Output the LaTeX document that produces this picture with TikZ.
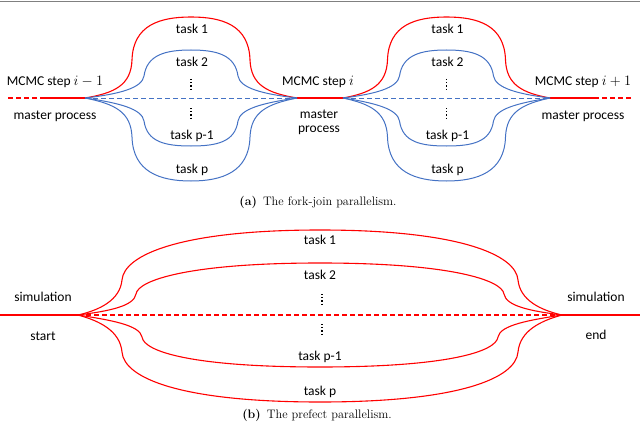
\documentclass[tikz,border=0pt]{standalone}
\usepackage{fontspec}
\setmainfont{Carlito}
\newfontfamily\capfont{Latin Modern Roman}
\begin{document}
\begin{tikzpicture}[x=1pt,y=-1pt,
  redl/.style={draw={rgb,255:red,255;green,0;blue,0},line width=1.1pt},
  bluel/.style={draw={rgb,255:red,68;green,114;blue,196},line width=1pt},
  dsh/.style={dash pattern=on 5pt off 3pt},
  lbl/.style={font=\fontsize{13.5}{15}\selectfont,inner sep=0pt,align=center},
  captxt/.style={font=\capfont\fontsize{12.3}{14}\selectfont,inner sep=0pt},
  vdots/.style={draw=black,line width=1.2pt,dash pattern=on 1.2pt off 2pt}]
\useasboundingbox (0,0) rectangle (640,428);
\draw[gray,line width=1pt] (0,1.5) -- (640,1.5);
% ---------- (a) ----------
\coordinate (a0) at (8,98);
\coordinate (a1) at (42,98);
\coordinate (f1) at (85,98);
\coordinate (j1) at (297,98);
\coordinate (f2) at (343,98);
\coordinate (j2) at (550,98);
\coordinate (a2) at (594,98);
\coordinate (a3) at (632,98);
\draw[redl,dsh] (a0) -- (a1);
\draw[redl] (a1) -- (f1);
\draw[redl] (j1) -- (f2);
\draw[redl] (j2) -- (a2);
\draw[redl,dsh] (a2) -- (a3);
\draw[bluel,dsh] (f1) -- (j1);
\draw[bluel,dsh] (f2) -- (j2);
\foreach \f/\j/\c in {f1/j1/191,f2/j2/446.5}{
  \begin{scope}[shift={(\c,0)}]
  \draw[redl] (\f) .. controls (-76,93) and (-60,85) .. (-59,60)
     .. controls (-58,25) and (-31,17) .. (0,17)
     .. controls (31,17) and (58,25) .. (59,60)
     .. controls (60,85) and (76,93) .. (\j);
  \draw[bluel] (\f) .. controls (-71,94) and (-49,88) .. (-47,76)
     .. controls (-44,55) and (-26,50) .. (0,50)
     .. controls (26,50) and (44,55) .. (47,76)
     .. controls (49,88) and (71,94) .. (\j);
  \draw[bluel] (\f) .. controls (-71,103) and (-49,109) .. (-47,121)
     .. controls (-44,142) and (-26,146) .. (0,146)
     .. controls (26,146) and (44,142) .. (47,121)
     .. controls (49,109) and (71,103) .. (\j);
  \draw[bluel] (\f) .. controls (-76,104) and (-60,112) .. (-59,137)
     .. controls (-58,172) and (-31,181) .. (0,181)
     .. controls (31,181) and (58,172) .. (59,137)
     .. controls (60,112) and (76,104) .. (\j);
  \end{scope}
}
\foreach \c/\n in {191/A,446.5/B}{
  \node[lbl] (t1\n) at (\c+1,29) {task 1};
  \node[lbl] (t2\n) at (\c+1,62) {task 2};
  \node[lbl] (tq\n) at (\c+1,136) {task p-1};
  \node[lbl] (tp\n) at (\c+1,170) {task p};
  \coordinate (d1\n) at (\c,79);
  \coordinate (d2\n) at (\c,91);
  \coordinate (d3\n) at (\c,108);
  \coordinate (d4\n) at (\c,120);
  \draw[vdots] (d1\n) -- (d2\n);
  \draw[vdots] (d3\n) -- (d4\n);
}
\node[lbl] (m1) at (55,82) {MCMC step $i-1$};
\node[lbl] (p1) at (55,116) {master process};
\node[lbl] (m2) at (318,82) {MCMC step $i$};
\node[lbl] (p2) at (319,122) {master\\[-1pt]process};
\node[lbl] (m3) at (583,82) {MCMC step $i+1$};
\node[lbl] (p3) at (583,116) {master process};
\node[captxt] (capa) at (318,202) {\textbf{(a)}\enspace The fork-join parallelism.};
% ---------- (b) ----------
\coordinate (b0) at (0,315);
\coordinate (fb) at (78,315);
\coordinate (jb) at (562,315);
\coordinate (b3) at (640,315);
\draw[redl] (b0) -- (fb);
\draw[redl] (jb) -- (b3);
\draw[redl,dsh] (fb) -- (jb);
\begin{scope}[shift={(320,0)}]
\draw[redl] (fb) .. controls (-220,310) and (-200,300) .. (-198,280)
  .. controls (-196,255) and (-140,230) .. (0,230)
  .. controls (140,230) and (196,255) .. (198,280)
  .. controls (200,300) and (220,310) .. (jb);
\draw[redl] (fb) .. controls (-210,311) and (-186,306) .. (-184,294)
  .. controls (-182,280) and (-130,263) .. (0,263)
  .. controls (130,263) and (182,280) .. (184,294)
  .. controls (186,306) and (210,311) .. (jb);
\draw[redl] (fb) .. controls (-210,320) and (-180,325) .. (-178,337)
  .. controls (-176,352) and (-126,367) .. (0,367)
  .. controls (126,367) and (176,352) .. (178,337)
  .. controls (180,325) and (210,320) .. (jb);
\draw[redl] (fb) .. controls (-220,321) and (-200,331) .. (-198,352)
  .. controls (-196,378) and (-140,402) .. (0,402)
  .. controls (140,402) and (196,378) .. (198,352)
  .. controls (200,331) and (220,321) .. (jb);
\end{scope}
\node[lbl] (bt1) at (320,240) {task 1};
\node[lbl] (bt2) at (320,275) {task 2};
\node[lbl] (btq) at (320,357) {task p-1};
\node[lbl] (btp) at (320,392) {task p};
\coordinate (e1) at (322,294);
\coordinate (e2) at (322,306);
\coordinate (e3) at (322,324);
\coordinate (e4) at (322,336);
\draw[vdots] (e1) -- (e2);
\draw[vdots] (e3) -- (e4);
\node[lbl] (s1) at (43,297) {simulation};
\node[lbl] (st) at (43,336) {start};
\node[lbl] (s2) at (596,297) {simulation};
\node[lbl] (en) at (596,335) {end};
\node[captxt] (capb) at (317,415) {\textbf{(b)}\enspace The prefect parallelism.};
\end{tikzpicture}
\end{document}
